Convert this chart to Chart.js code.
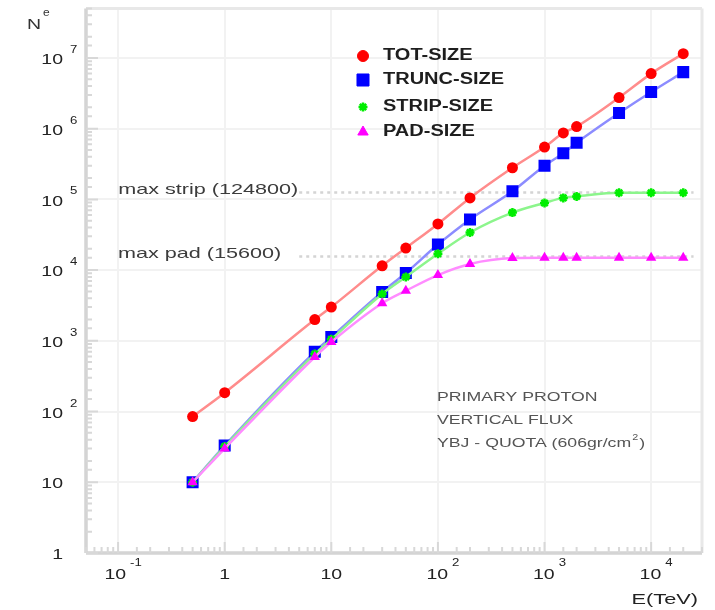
<!DOCTYPE html>
<html>
<head>
<meta charset="utf-8">
<script src="https://cdn.jsdelivr.net/npm/chart.js@4.4.1/dist/chart.umd.min.js"></script>
<style>
  html, body { margin: 0; padding: 0; background: #fff; }
</style>
</head>
<body>
<canvas id="chart" width="715" height="610"></canvas>
<script>
// primary energy E (TeV)
const energies = [0.5, 1, 7, 10, 30, 50, 100, 200, 500, 1000, 1500, 2000, 5000, 10000, 20000]

const totSize = [85, 185, 2000, 3000, 11500, 20500, 45000, 105000, 280000, 550000, 870000, 1070000, 2750000, 6000000, 11500000]
const truncSize = [10, 33, 700, 1130, 4900, 9100, 23000, 52000, 130000, 300000, 450000, 630000, 1660000, 3300000, 6300000]
const stripSize = [10, 32, 650, 1050, 4600, 8000, 17000, 34000, 65000, 89000, 105000, 110000, 124000, 124000, 124000]
const padSize = [10, 30, 590, 960, 3400, 5100, 8500, 12200, 14800, 15000, 15000, 15000, 15000, 15000, 15000]

const maxStrip = 124800
const maxPad = 15600
const maxLineRange = [5, 25000]

const xTickValues = [0.1, 1, 10, 100, 1000, 10000]
const xTickBase = ['10', '1', '10', '10', '10', '10']
const xTickExp = ['-1', '', '', '2', '3', '4']

const yTickValues = [1, 10, 1e2, 1e3, 1e4, 1e5, 1e6, 1e7]
const yTickBase = ['1', '10', '10', '10', '10', '10', '10', '10']
const yTickExp = ['', '', '2', '3', '4', '5', '6', '7']

const legendLabels = ['TOT-SIZE', 'TRUNC-SIZE', 'STRIP-SIZE', 'PAD-SIZE']
const infoLines = ['PRIMARY PROTON', 'VERTICAL FLUX', 'YBJ - QUOTA (606gr/cm']

const FONT = '"Liberation Sans", Arial, sans-serif'

const seriesStyle = [
  { color: '#ff0000', line: '#ff8c8c', style: 'circle', radius: 5.5, order: 0 },
  { color: '#0000ff', line: '#8c8cff', style: 'rect', radius: 8.5, order: 3 },
  { color: '#00ee00', line: '#8cf58c', style: 'star', radius: 4.5, order: 2 },
  { color: '#ff00ff', line: '#ff8cff', style: 'triangle', radius: 6, order: 1 }
]

const isPow10 = v => Math.abs(Math.log10(v) - Math.round(Math.log10(v))) < 1e-9

function wideText(ctx, text, x, y, size, opts = {}) {
  const sx = opts.sx || 1.3
  ctx.save()
  ctx.font = `${opts.bold ? 'bold ' : ''}${size}px ${FONT}`
  ctx.fillStyle = opts.color || '#222'
  ctx.textBaseline = 'middle'
  ctx.textAlign = 'left'
  const w = ctx.measureText(text).width * sx
  let left = x
  if (opts.align === 'right') left = x - w
  else if (opts.align === 'center') left = x - w / 2
  ctx.translate(left, y)
  ctx.scale(sx, 1)
  ctx.fillText(text, 0, 0)
  ctx.restore()
  return w
}

function measureWide(ctx, text, size, sx, bold) {
  ctx.save()
  ctx.font = `${bold ? 'bold ' : ''}${size}px ${FONT}`
  const w = ctx.measureText(text).width * sx
  ctx.restore()
  return w
}

const toPoints = ys => energies.map((e, i) => ({ x: e, y: ys[i] }))

const datasets = [totSize, truncSize, stripSize, padSize].map((ys, i) => {
  const s = seriesStyle[i]
  return {
    label: legendLabels[i],
    data: toPoints(ys),
    showLine: true,
    borderColor: s.line,
    borderWidth: 2.5,
    cubicInterpolationMode: 'monotone',
    pointStyle: s.style,
    pointRadius: s.radius,
    pointBackgroundColor: s.color,
    pointBorderColor: s.color,
    pointBorderWidth: s.style === 'star' ? 2.5 : 0,
    order: s.order
  }
})

for (const level of [maxStrip, maxPad]) {
  datasets.push({
    label: '',
    data: maxLineRange.map(x => ({ x, y: level })),
    showLine: true,
    borderColor: '#d4d4d4',
    borderWidth: 2.5,
    borderDash: [3, 4],
    pointRadius: 0,
    order: 10
  })
}

const framePlugin = {
  id: 'frame',
  beforeDatasetsDraw(chart) {
    const { ctx, chartArea: a, scales } = chart
    ctx.save()
    ctx.lineWidth = 3
    ctx.strokeStyle = '#e8e8e8'
    ctx.beginPath()
    ctx.moveTo(a.left, a.top); ctx.lineTo(a.right, a.top)
    ctx.moveTo(a.right, a.top); ctx.lineTo(a.right, a.bottom)
    ctx.stroke()
    ctx.strokeStyle = '#d4d4d4'
    ctx.lineWidth = 3.5
    ctx.beginPath()
    ctx.moveTo(a.left, a.top); ctx.lineTo(a.left, a.bottom)
    ctx.moveTo(a.left, a.bottom); ctx.lineTo(a.right, a.bottom)
    ctx.stroke()

    // inward tick marks
    ctx.lineWidth = 2
    ctx.strokeStyle = '#d8d8d8'
    ctx.beginPath()
    for (const t of scales.y.ticks) {
      const py = scales.y.getPixelForValue(t.value)
      if (py < a.top - 1 || py > a.bottom + 1) continue
      const len = isPow10(t.value) ? 12 : 6
      ctx.moveTo(a.left, py); ctx.lineTo(a.left + len, py)
    }
    for (const t of scales.x.ticks) {
      const px = scales.x.getPixelForValue(t.value)
      if (px < a.left - 1 || px > a.right + 1) continue
      const len = isPow10(t.value) ? 11 : 6
      ctx.moveTo(px, a.bottom); ctx.lineTo(px, a.bottom - len)
    }
    ctx.stroke()
    ctx.restore()
  },
  afterDraw(chart) {
    const { ctx, chartArea: a, scales } = chart
    const x = scales.x, y = scales.y

    // y tick labels
    yTickValues.forEach((v, i) => {
      const py = y.getPixelForValue(v)
      wideText(ctx, yTickBase[i], a.left - 23, py + 2, 15, { align: 'right', sx: 1.3 })
      if (yTickExp[i]) wideText(ctx, yTickExp[i], a.left - 16, py - 8, 11, { sx: 1.2 })
    })

    // x tick labels
    xTickValues.forEach((v, i) => {
      const px = x.getPixelForValue(v)
      const wExp = xTickExp[i] ? measureWide(ctx, xTickExp[i], 11, 1.2) : 0
      const cx = px - Math.max(0, wExp - 6) / 2
      const wBase = wideText(ctx, xTickBase[i], cx, a.bottom + 22, 15, { align: 'center', sx: 1.3 })
      if (xTickExp[i]) wideText(ctx, xTickExp[i], cx + wBase / 2 + 4, a.bottom + 10, 11, { sx: 1.2 })
    })

    // axis titles
    wideText(ctx, 'E(TeV)', a.right - 4, a.bottom + 47, 15, { align: 'right', sx: 1.45 })
    wideText(ctx, 'N', 27, 25, 15, { sx: 1.3, color: '#333' })
    wideText(ctx, 'e', 43, 13, 10, { sx: 1.2, color: '#333' })

    // max level labels, ending where the dotted lines start
    const lineStart = x.getPixelForValue(maxLineRange[0])
    wideText(ctx, `max strip (${maxStrip})`, lineStart - 1, y.getPixelForValue(maxStrip) - 3, 15, { align: 'right', sx: 1.44, color: '#3c3c3c' })
    wideText(ctx, `max pad (${maxPad})`, lineStart - 18, y.getPixelForValue(maxPad) - 3, 15, { align: 'right', sx: 1.44, color: '#3c3c3c' })

    // legend
    const legendY = [56, 80, 107, 132]
    legendLabels.forEach((label, i) => {
      const s = seriesStyle[i]
      ctx.save()
      ctx.fillStyle = s.color
      ctx.strokeStyle = s.color
      ctx.lineWidth = s.style === 'star' ? 2.5 : 0
      Chart.helpers.drawPoint(ctx, { pointStyle: s.style, radius: s.radius, rotation: 0, borderWidth: ctx.lineWidth }, 363, legendY[i])
      ctx.restore()
      wideText(ctx, label, 383, legendY[i], 16, { bold: true, sx: 1.25, color: '#1e1e1e' })
    })

    // info text
    const infoY = [397, 420, 443]
    infoLines.forEach((t, i) => {
      const w = wideText(ctx, t, 437, infoY[i], 13, { sx: 1.36, color: '#555' })
      if (i === 2) {
        const w2 = wideText(ctx, '2', 437 + w + 1, infoY[i] - 5, 9, { sx: 1.2, color: '#555' })
        wideText(ctx, ')', 437 + w + w2 + 2, infoY[i], 13, { sx: 1.36, color: '#555' })
      }
    })
  }
}

new Chart(document.getElementById('chart'), {
  type: 'scatter',
  data: { datasets },
  options: {
    responsive: false,
    animation: false,
    layout: { padding: { top: 8, right: 13, left: 0, bottom: 0 } },
    scales: {
      x: {
        type: 'logarithmic',
        min: 0.05,
        max: 30000,
        border: { display: false },
        ticks: { display: false },
        grid: {
          drawTicks: false,
          lineWidth: 2,
          color: c => isPow10(c.tick.value) ? '#f2f2f2' : 'rgba(0,0,0,0)'
        },
        afterFit: s => { s.height = 57 }
      },
      y: {
        type: 'logarithmic',
        min: 1,
        max: 5e7,
        border: { display: false },
        ticks: { display: false },
        grid: {
          drawTicks: false,
          lineWidth: 2,
          color: c => isPow10(c.tick.value) ? '#f2f2f2' : 'rgba(0,0,0,0)'
        },
        afterFit: s => { s.width = 86 }
      }
    },
    plugins: {
      legend: { display: false },
      tooltip: { enabled: false }
    }
  },
  plugins: [framePlugin]
})
</script>
</body>
</html>
